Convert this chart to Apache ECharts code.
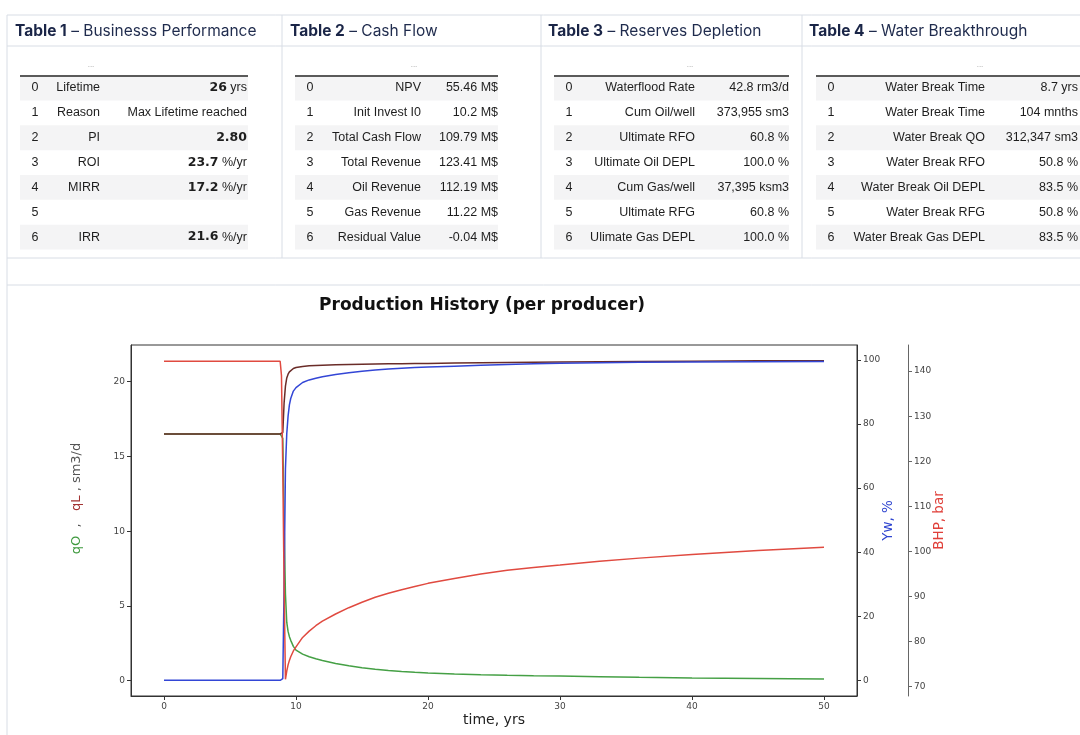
<!DOCTYPE html>
<html><head><meta charset="utf-8">
<script src="https://cdn.jsdelivr.net/npm/echarts@6/dist/echarts.min.js"></script>
<style>html,body{margin:0;padding:0;background:#fff}#c{width:1080px;height:735px}</style>
</head><body><div id="c"></div>
<script>
// ---------- chart data ----------
const time = [0, 8.8, 8.9, 9.0, 9.1, 9.2, 9.3, 9.4, 9.5, 9.6, 9.8, 10, 10.5, 11, 11.5, 12, 13, 14, 15, 16, 17, 18, 19, 20, 22, 24, 26, 28, 30, 33, 36, 40, 45, 50];
const qO  = [16.5, 16.5, 16.5, 16.2, 10.5, 5.8, 3.9, 3.3, 2.95, 2.7, 2.3, 2.05, 1.78, 1.6, 1.47, 1.36, 1.16, 1.0, 0.87, 0.77, 0.69, 0.62, 0.56, 0.51, 0.45, 0.4, 0.36, 0.33, 0.31, 0.27, 0.23, 0.19, 0.15, 0.11];
const qL  = [16.5, 16.5, 16.5, 16.6, 18.6, 19.7, 20.25, 20.5, 20.65, 20.75, 20.88, 20.95, 21.02, 21.06, 21.08, 21.1, 21.13, 21.15, 21.17, 21.18, 21.19, 21.2, 21.21, 21.22, 21.24, 21.26, 21.28, 21.3, 21.31, 21.33, 21.35, 21.37, 21.39, 21.4];
const yw  = [0, 0, 0, 0.5, 30, 66, 77, 82.5, 86, 88, 90.3, 91.4, 93, 93.8, 94.3, 94.8, 95.5, 96, 96.5, 96.9, 97.2, 97.45, 97.65, 97.8, 98.1, 98.4, 98.65, 98.85, 99, 99.15, 99.3, 99.4, 99.5, 99.55];
const bhp = [142.2, 142.2, 139, 118, 92, 71.6, 73.4, 74.8, 75.8, 76.6, 77.9, 78.8, 80.9, 82.3, 83.5, 84.5, 86.1, 87.5, 88.7, 89.8, 90.7, 91.5, 92.2, 92.9, 94.0, 95.0, 95.8, 96.4, 96.95, 97.8, 98.5, 99.3, 100.2, 100.9];

const xTicks = [0, 10, 20, 30, 40, 50];
const qTicks = [0, 5, 10, 15, 20];
const ywTicks = [0, 20, 40, 60, 80, 100];
const bhpTicks = [70, 80, 90, 100, 110, 120, 130, 140];

const chartTitle = 'Production History (per producer)';

// ---------- table data ----------
const tableTitles = ['Table 1', 'Table 2', 'Table 3', 'Table 4'];
const tableSubtitles = ['Businesss Performance', 'Cash Flow', 'Reserves Depletion', 'Water Breakthrough'];
const rowIndex = ['0', '1', '2', '3', '4', '5', '6'];

const t1Labels = ['Lifetime', 'Reason', 'PI', 'ROI', 'MIRR', '', 'IRR'];
const t1Values = ['26', 'Max Lifetime reached', '2.80', '23.7', '17.2', '', '21.6'];
const t1Units  = [' yrs', '', '', ' %/yr', ' %/yr', '', ' %/yr'];
const t1Bold   = [true, false, true, true, true, false, true];

const t2Labels = ['NPV', 'Init Invest I0', 'Total Cash Flow', 'Total Revenue', 'Oil Revenue', 'Gas Revenue', 'Residual Value'];
const t2Values = ['55.46 M$', '10.2 M$', '109.79 M$', '123.41 M$', '112.19 M$', '11.22 M$', '-0.04 M$'];

const t3Labels = ['Waterflood Rate', 'Cum Oil/well', 'Ultimate RFO', 'Ultimate Oil DEPL', 'Cum Gas/well', 'Ultimate RFG', 'Ulimate Gas DEPL'];
const t3Values = ['42.8 rm3/d', '373,955 sm3', '60.8 %', '100.0 %', '37,395 ksm3', '60.8 %', '100.0 %'];

const t4Labels = ['Water Break Time', 'Water Break Time', 'Water Break QO', 'Water Break RFO', 'Water Break Oil DEPL', 'Water Break RFG', 'Water Break Gas DEPL'];
const t4Values = ['8.7 yrs', '104 mnths', '312,347 sm3', '50.8 %', '83.5 %', '50.8 %', '83.5 %'];

// ---------- layout (positions, not data) ----------
const L = {
  panelX: [7, 282, 541, 802],
  top: 15, headerBottom: 46, panelBottom: 258, chartTop: 285,
  tableL: [20, 295, 554, 816], tableR: [248, 498, 789, 1080],
  idxX: [35, 310, 569, 831], labR: [100, 421, 695, 985], valR: [247, 498, 789, 1078],
  dotsX: [91, 414, 690, 980], titleX: [15, 290, 548, 809],
  row0: 88, rowH: 24.85, headLineY: 76, dotsY: 65
};
const BORDER = '#d8dde5';
const TXT = '#1e1e1e';
const TFONT = '"Liberation Sans", Arial, sans-serif';
const HFONT = 'Inter, "Noto Sans", sans-serif';

const g = [];
function line(x1, y1, x2, y2, stroke, w) {
  g.push({type: 'line', silent: true, shape: {x1, y1, x2, y2}, style: {stroke, lineWidth: w}});
}
function text(x, y, t, align, extra) {
  g.push({type: 'text', silent: true, x, y, style: Object.assign({
    text: t, fill: TXT, fontSize: 12.5, fontFamily: TFONT, align: align, verticalAlign: 'middle'
  }, extra || {})});
}

// panel borders
line(L.panelX[0], L.top, 1080, L.top, BORDER, 1);
line(L.panelX[0], L.headerBottom, 1080, L.headerBottom, BORDER, 1);
line(L.panelX[0], L.panelBottom, 1080, L.panelBottom, BORDER, 1);
line(L.panelX[0], L.chartTop, 1080, L.chartTop, BORDER, 1);
line(L.panelX[0], L.top, L.panelX[0], 735, BORDER, 1);
for (let i = 1; i < L.panelX.length; i++) line(L.panelX[i], L.top, L.panelX[i], L.panelBottom, BORDER, 1);

const tables = [
  {labels: t1Labels, values: t1Values},
  {labels: t2Labels, values: t2Values},
  {labels: t3Labels, values: t3Values},
  {labels: t4Labels, values: t4Values}
];

tables.forEach((tb, k) => {
  text(L.titleX[k], 31, '{b|' + tableTitles[k] + '} – ' + tableSubtitles[k], 'left', {
    fill: '#1f2b4d', fontSize: 15.5, fontFamily: HFONT,
    rich: {b: {fontWeight: 'bold', fill: '#1a2547', fontSize: 15.5, fontFamily: HFONT}}
  });
  rowIndex.forEach((r, i) => {
    if (i % 2 === 0) {
      g.push({type: 'rect', silent: true, z: -1, shape: {x: L.tableL[k], y: L.row0 + i * L.rowH - L.rowH / 2, width: L.tableR[k] - L.tableL[k], height: L.rowH}, style: {fill: '#f4f4f5'}});
    }
  });
  line(L.tableL[k], L.headLineY, L.tableR[k], L.headLineY, '#5a5a5a', 2);
  text(L.dotsX[k], L.dotsY, '...', 'center', {fill: '#999', fontSize: 8});
  rowIndex.forEach((r, i) => {
    const y = L.row0 + i * L.rowH;
    text(L.idxX[k], y, r, 'center');
    text(L.labR[k], y, tb.labels[i], 'right');
    if (k === 0) {
      const v = t1Bold[i]
        ? '{b|' + t1Values[i] + '}' + t1Units[i]
        : t1Values[i] + t1Units[i];
      text(L.valR[k], y, v, 'right', {rich: {b: {fontWeight: 'bold', fontFamily: '"DejaVu Sans", sans-serif', fontSize: 12.5, fill: TXT}}});
    } else {
      text(L.valR[k], y, tb.values[i], 'right');
    }
  });
});

// chart title
g.push({type: 'text', silent: true, x: 482, y: 306, style: {
  text: chartTitle, fill: '#111', fontSize: 17, fontWeight: 'bold',
  fontFamily: '"DejaVu Sans", sans-serif', align: 'center', verticalAlign: 'middle'}});

const pairs = arr => time.map((t, i) => [t, arr[i]]);

const tickLbl = {fontSize: 9, color: '#444', fontFamily: '"DejaVu Sans", sans-serif'};
const AX = '#333';

const chart = echarts.init(document.getElementById('c'), null, {renderer: 'canvas'});
chart.setOption({
  backgroundColor: '#fff',
  animation: false,
  graphic: g,
  grid: {left: 131, top: 345, width: 726, height: 351, show: true, borderColor: AX, borderWidth: 1, containLabel: false},
  xAxis: {
    type: 'value', min: -2.5, max: 52.5,
    axisLine: {show: true, onZero: false, lineStyle: {color: AX}},
    splitLine: {show: false},
    axisTick: {show: true, customValues: xTicks, length: 4, lineStyle: {color: AX}},
    axisLabel: Object.assign({customValues: xTicks, margin: 6}, tickLbl),
    name: 'time, yrs', nameLocation: 'middle', nameGap: 17,
    nameTextStyle: {fontSize: 14, color: '#222', fontFamily: '"DejaVu Sans", sans-serif'}
  },
  yAxis: [
    {
      type: 'value', position: 'left', min: -1.02, max: 22.45,
      axisLine: {show: true, onZero: false, lineStyle: {color: AX}},
      splitLine: {show: false},
      axisTick: {show: true, customValues: qTicks, length: 4, lineStyle: {color: AX}},
      axisLabel: Object.assign({customValues: qTicks, margin: 6}, tickLbl),
      name: '{g|qO}  ,   {r|qL} , sm3/d', nameLocation: 'middle', nameRotate: 90, nameGap: 48,
      nameMoveOverlap: false,
      nameTextStyle: {
        fontSize: 13, color: '#555', fontFamily: '"DejaVu Sans", sans-serif', padding: [0, 0, 0, 44],
        rich: {
          g: {color: '#3f9a3f', fontSize: 13, fontFamily: '"DejaVu Sans", sans-serif'},
          r: {color: '#a33434', fontSize: 13, fontFamily: '"DejaVu Sans", sans-serif'}
        }
      }
    },
    {
      type: 'value', position: 'right', min: -4.9, max: 104.7,
      axisLine: {show: true, onZero: false, lineStyle: {color: AX}},
      splitLine: {show: false},
      axisTick: {show: true, customValues: ywTicks, length: 4, lineStyle: {color: AX}},
      axisLabel: Object.assign({customValues: ywTicks, margin: 6}, tickLbl),
      name: 'Yw, %', nameLocation: 'middle', nameRotate: 90, nameGap: 24, nameMoveOverlap: false,
      nameTextStyle: {fontSize: 13.5, color: '#3046d0', fontFamily: '"DejaVu Sans", sans-serif'}
    },
    {
      type: 'value', position: 'right', offset: 51, min: 67.9, max: 145.8,
      axisLine: {show: true, onZero: false, lineStyle: {color: '#666'}},
      splitLine: {show: false},
      axisTick: {show: true, customValues: bhpTicks, length: 4, lineStyle: {color: '#666'}},
      axisLabel: Object.assign({customValues: bhpTicks, margin: 6}, tickLbl),
      name: 'BHP, bar', nameLocation: 'middle', nameRotate: 90, nameGap: 24, nameMoveOverlap: false,
      nameTextStyle: {fontSize: 13.5, color: '#e0403a', fontFamily: '"DejaVu Sans", sans-serif'}
    }
  ],
  series: [
    {name: 'qO', type: 'line', yAxisIndex: 0, data: pairs(qO), showSymbol: false, lineStyle: {color: '#45a045', width: 1.5}, itemStyle: {color: '#45a045'}, z: 2},
    {name: 'qL', type: 'line', yAxisIndex: 0, data: pairs(qL), showSymbol: false, lineStyle: {color: '#6a2c28', width: 1.5}, itemStyle: {color: '#6a2c28'}, z: 3},
    {name: 'Yw', type: 'line', yAxisIndex: 1, data: pairs(yw), showSymbol: false, lineStyle: {color: '#3346d6', width: 1.5}, itemStyle: {color: '#3346d6'}, z: 4},
    {name: 'BHP', type: 'line', yAxisIndex: 2, data: pairs(bhp), showSymbol: false, lineStyle: {color: '#e04a40', width: 1.5}, itemStyle: {color: '#e04a40'}, z: 5}
  ]
});
</script></body></html>
